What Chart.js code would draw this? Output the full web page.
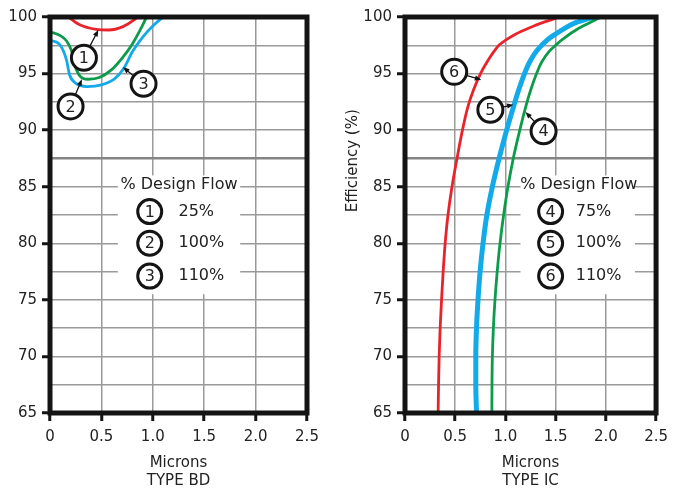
<!DOCTYPE html>
<html>
<head>
<meta charset="utf-8">
<script src="https://cdn.jsdelivr.net/npm/chart.js@4.4.0/dist/chart.umd.min.js"></script>
<style>
  html, body { margin: 0; padding: 0; background: #fff; }
  #wrap { position: relative; width: 675px; height: 489px; overflow: hidden; }
  canvas { position: absolute; top: 0; }
  #bd { left: 0; }
  #ic { left: 340px; }
</style>
</head>
<body>
<div id="wrap">
  <canvas id="bd" width="340" height="489"></canvas>
  <canvas id="ic" width="335" height="489"></canvas>
</div>
<script>
// tick labels
const micronTicks = [0, 0.5, 1.0, 1.5, 2.0, 2.5];
const micronLabels = ['0', '0.5', '1.0', '1.5', '2.0', '2.5'];
const efficiencyTicks = [65, 70, 75, 80, 85, 90, 95, 100];

// TYPE BD  (1 = 25%, 2 = 100%, 3 = 110% design flow)
const bdFlows = ['25%', '100%', '110%'];
const bdMicrons1 = [0.18, 0.28, 0.45, 0.57, 0.71, 0.81, 0.85];
const bdEff1 = [100, 99.35, 98.9, 98.85, 99.15, 99.7, 100];
const bdMicrons2 = [0, 0.1, 0.16, 0.21, 0.24, 0.29, 0.37, 0.48, 0.6, 0.7, 0.8, 0.88, 0.94];
const bdEff2 = [98.7, 98.35, 97.9, 97.0, 95.8, 94.8, 94.5, 94.65, 95.35, 96.35, 97.6, 98.9, 100];
const bdMicrons3 = [0, 0.1, 0.16, 0.19, 0.25, 0.36, 0.5, 0.63, 0.72, 0.8, 0.9, 1.0, 1.1];
const bdEff3 = [97.95, 97.5, 96.2, 94.9, 94.15, 93.85, 94.0, 94.55, 95.5, 96.9, 98.2, 99.2, 100];

// TYPE IC  (4 = 75%, 5 = 100%, 6 = 110% design flow)
const icFlows = ['75%', '100%', '110%'];
const icMicrons4 = [0.865, 0.866, 0.870, 0.880, 0.896, 0.918, 0.946, 0.982, 1.025, 1.078, 1.143, 1.200, 1.250, 1.31, 1.36, 1.44, 1.50, 1.565, 1.73, 1.84, 1.95];
const icEff4 = [65, 67.5, 70, 72.5, 75, 77.5, 80, 82.5, 85, 87.5, 90, 92, 93.5, 95, 96, 97, 97.5, 98, 99, 99.5, 100];
const icMicrons5 = [0.712, 0.705, 0.705, 0.712, 0.727, 0.748, 0.777, 0.815, 0.870, 0.937, 1.012, 1.078, 1.13, 1.19, 1.24, 1.31, 1.42, 1.50, 1.59, 1.70, 1.88];
const icEff5 = [65, 67.5, 70, 72.5, 75, 77.5, 80, 82.5, 85, 87.5, 90, 92, 93.5, 95, 96, 97, 98, 98.5, 99, 99.5, 100];
const icMicrons6 = [0.330, 0.334, 0.340, 0.350, 0.364, 0.380, 0.400, 0.428, 0.468, 0.518, 0.572, 0.624, 0.680, 0.752, 0.815, 0.89, 0.935, 1.01, 1.105, 1.23, 1.37, 1.54];
const icEff6 = [65, 67.5, 70, 72.5, 75, 77.5, 80, 82.5, 85, 87.5, 90, 92, 93.5, 95, 96, 97, 97.5, 98, 98.5, 99, 99.5, 100];

const RED = '#e9232b', GREEN = '#0c9b4b', BLUE = '#12aae8';
const FONT = 'DejaVu Sans';

function points(xs, ys) {
  return xs.map((x, i) => ({ x: x, y: ys[i] }));
}

function curve(xs, ys, color, width) {
  return {
    data: points(xs, ys),
    borderColor: color,
    borderWidth: width,
    pointRadius: 0,
    cubicInterpolationMode: 'monotone',
    fill: false
  };
}

// frame, callouts, legend box and y title
const decorPlugin = {
  id: 'decor',
  beforeDatasetsDraw(chart, args, opts) {
    const { ctx, scales: { x, y } } = chart;
    const lg = opts.legend;
    ctx.save();
    ctx.fillStyle = '#fff';
    const l = x.getPixelForValue(lg.box[0]), r = x.getPixelForValue(lg.box[1]);
    const t = y.getPixelForValue(lg.box[3]), b = y.getPixelForValue(lg.box[2]);
    ctx.fillRect(l, t, r - l, b - t);
    ctx.restore();
  },
  afterDatasetsDraw(chart, args, opts) {
    const { ctx, chartArea: a, scales: { x, y } } = chart;
    ctx.save();
    ctx.strokeStyle = '#141414';
    ctx.lineWidth = 5;
    ctx.strokeRect(a.left, a.top, a.right - a.left, a.bottom - a.top);

    opts.callouts.forEach(c => {
      const cx = x.getPixelForValue(c.at[0]), cy = y.getPixelForValue(c.at[1]);
      const tx = x.getPixelForValue(c.to[0]), ty = y.getPixelForValue(c.to[1]);
      const ang = Math.atan2(ty - cy, tx - cx);
      const r = 12.5;
      ctx.strokeStyle = '#141414';
      ctx.fillStyle = '#141414';
      ctx.lineWidth = 1.3;
      ctx.beginPath();
      ctx.moveTo(cx + Math.cos(ang) * r, cy + Math.sin(ang) * r);
      ctx.lineTo(tx - Math.cos(ang) * 4, ty - Math.sin(ang) * 4);
      ctx.stroke();
      ctx.beginPath();
      ctx.moveTo(tx, ty);
      ctx.lineTo(tx - 7 * Math.cos(ang - 0.38), ty - 7 * Math.sin(ang - 0.38));
      ctx.lineTo(tx - 7 * Math.cos(ang + 0.38), ty - 7 * Math.sin(ang + 0.38));
      ctx.closePath();
      ctx.fill();
      ctx.fillStyle = '#fff';
      ctx.beginPath();
      ctx.arc(cx, cy, r, 0, Math.PI * 2);
      ctx.fill();
      ctx.lineWidth = 3;
      ctx.stroke();
      ctx.fillStyle = '#222';
      ctx.font = '16px ' + FONT;
      ctx.textAlign = 'center';
      ctx.textBaseline = 'middle';
      ctx.fillText(c.n, cx, cy + 1);
    });

    const lg = opts.legend;
    ctx.fillStyle = '#222';
    ctx.font = '16px ' + FONT;
    ctx.textAlign = 'center';
    ctx.textBaseline = 'middle';
    ctx.fillText('% Design Flow', x.getPixelForValue(lg.titleAt[0]), y.getPixelForValue(lg.titleAt[1]));
    lg.flows.forEach((f, i) => {
      const cx = x.getPixelForValue(lg.circleX), cy = y.getPixelForValue(lg.rows[i]);
      ctx.strokeStyle = '#141414';
      ctx.lineWidth = 3;
      ctx.beginPath();
      ctx.arc(cx, cy, 12, 0, Math.PI * 2);
      ctx.stroke();
      ctx.textAlign = 'center';
      ctx.fillText(lg.nums[i], cx, cy + 1);
      ctx.textAlign = 'left';
      ctx.fillText(f, x.getPixelForValue(lg.textX), cy);
    });

    if (opts.yTitle) {
      ctx.save();
      ctx.translate(opts.yTitle.px, y.getPixelForValue(opts.yTitle.at));
      ctx.rotate(-Math.PI / 2);
      ctx.textAlign = 'center';
      ctx.textBaseline = 'middle';
      ctx.font = '15px ' + FONT;
      ctx.fillText(opts.yTitle.text, 0, 0);
      ctx.restore();
    }
    ctx.restore();
  }
};

// indexAxis: the axis along which the curves are monotone-interpolated
function makeChart(id, datasets, typeName, yWidth, rightPad, indexAxis, decor) {
  return new Chart(document.getElementById(id), {
    type: 'line',
    data: { datasets: datasets },
    options: {
      responsive: false,
      animation: false,
      indexAxis: indexAxis,
      layout: { padding: { top: 17, right: rightPad, left: 0, bottom: 0 } },
      plugins: {
        legend: { display: false },
        tooltip: { enabled: false },
        decor: decor
      },
      scales: {
        x: {
          type: 'linear',
          axis: 'x',
          position: 'bottom',
          min: 0,
          max: 2.5,
          afterFit: s => { s.height = 76; },
          ticks: {
            stepSize: 0.5,
            autoSkip: false,
            maxRotation: 0,
            padding: 7,
            color: '#222',
            font: { family: FONT, size: 15 },
            callback: v => {
              const i = micronTicks.indexOf(v);
              return i >= 0 ? micronLabels[i] : '';
            }
          },
          grid: {
            color: '#9a9a9a',
            lineWidth: 1.5,
            tickLength: 8,
            tickColor: '#141414',
            tickWidth: 3
          },
          border: { display: false },
          title: {
            display: true,
            text: ['Microns', typeName],
            color: '#222',
            font: { family: FONT, size: 15, lineHeight: 1.2 },
            padding: { top: 0, bottom: -1 }
          }
        },
        y: {
          type: 'linear',
          axis: 'y',
          position: 'left',
          reverse: false,
          min: 65,
          max: 100,
          afterFit: s => { s.width = yWidth; },
          ticks: {
            stepSize: 2.5,
            autoSkip: false,
            padding: 5,
            color: '#222',
            font: { family: FONT, size: 15 },
            callback: v => efficiencyTicks.includes(v) ? String(v) : ''
          },
          grid: {
            color: c => c.tick && c.tick.value === 87.5 ? '#858585' : '#9a9a9a',
            lineWidth: c => c.tick && c.tick.value === 87.5 ? 2.5 : 1.5,
            tickLength: 8,
            tickWidth: 3,
            tickColor: c => c.tick && efficiencyTicks.includes(c.tick.value) ? '#141414' : 'rgba(0,0,0,0)'
          },
          border: { display: false }
        }
      }
    },
    plugins: [decorPlugin]
  });
}

makeChart('bd', [
  curve(bdMicrons1, bdEff1, RED, 2.8),
  curve(bdMicrons2, bdEff2, GREEN, 2.8),
  curve(bdMicrons3, bdEff3, BLUE, 2.8)
], 'TYPE BD', 50, 33, 'x', {
  callouts: [
    { n: '1', at: [0.33, 96.4], to: [0.47, 98.85] },
    { n: '2', at: [0.2, 92.1], to: [0.31, 94.5] },
    { n: '3', at: [0.91, 94.1], to: [0.71, 95.55] }
  ],
  legend: {
    flows: bdFlows, nums: ['1', '2', '3'],
    box: [0.66, 1.85, 75.5, 86.0],
    titleAt: [1.255, 85.15],
    circleX: 0.97, textX: 1.25,
    rows: [82.8, 80.0, 77.1]
  }
});

makeChart('ic', [
  curve(icMicrons4, icEff4, GREEN, 2.8),
  curve(icMicrons5, icEff5, BLUE, 5),
  curve(icMicrons6, icEff6, RED, 2.8)
], 'TYPE IC', 65, 13, 'y', {
  callouts: [
    { n: '6', at: [0.49, 95.15], to: [0.76, 94.45] },
    { n: '5', at: [0.85, 91.8], to: [1.08, 92.25] },
    { n: '4', at: [1.38, 89.9], to: [1.2, 91.6] }
  ],
  legend: {
    flows: icFlows, nums: ['4', '5', '6'],
    box: [1.15, 2.29, 75.5, 86.0],
    titleAt: [1.73, 85.15],
    circleX: 1.45, textX: 1.7,
    rows: [82.8, 80.0, 77.1]
  },
  yTitle: { text: 'Efficiency (%)', px: 13, at: 87.3 }
});
</script>
</body>
</html>
